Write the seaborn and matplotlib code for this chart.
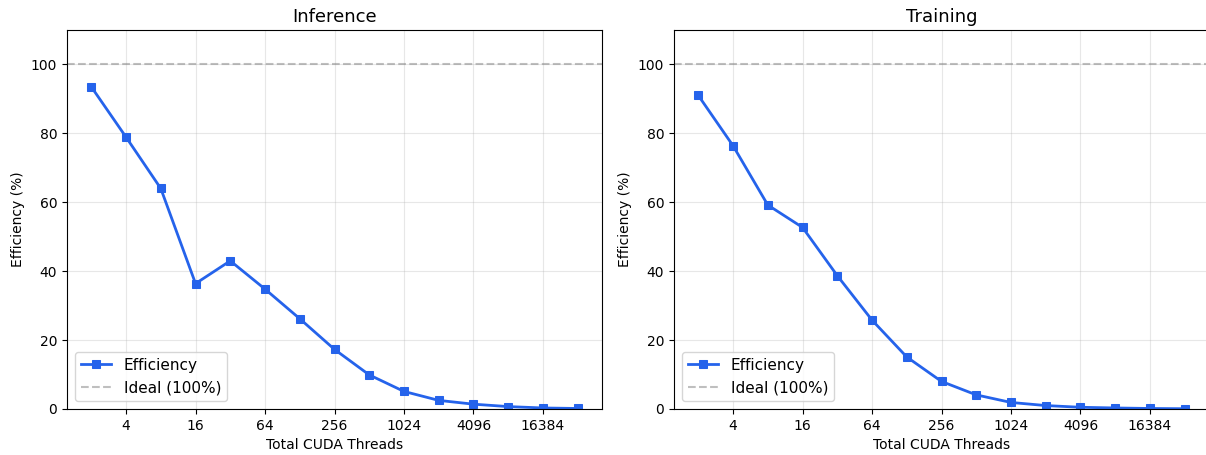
import numpy as np
import pandas as pd
import matplotlib
matplotlib.use('Agg')
import matplotlib.pyplot as plt
import seaborn as sns

threads = [2, 4, 8, 16, 32, 64, 128, 256, 512, 1024, 2048, 4096, 8192, 16384, 32768]
inference_eff = [93.5, 78.9, 64.0, 36.4, 43.0, 34.8, 26.2, 17.3, 9.9, 5.1, 2.5, 1.4, 0.7, 0.3, 0.15]
training_eff = [91.0, 76.4, 59.2, 52.7, 38.7, 25.8, 15.1, 8.0, 4.1, 1.9, 1.0, 0.5, 0.3, 0.15, 0.08]
tick_vals = [4, 16, 64, 256, 1024, 4096, 16384]
titles = ['Inference', 'Training']

plt.rcParams['font.family'] = ['DejaVu Sans']

W, H = 1206, 455
fig = plt.figure(figsize=(W / 100, H / 100), dpi=100)
# panel positions (pixels): the right panel runs slightly past the image edge
ax1 = fig.add_axes([67 / W, 1 - 409 / H, 535 / W, 379 / H])
ax2 = fig.add_axes([674 / W, 1 - 409 / H, 535 / W, 379 / H])

for ax, eff, title in zip([ax1, ax2], [inference_eff, training_eff], titles):
    df = pd.DataFrame({'threads': threads, 'eff': eff})
    sns.lineplot(data=df, x='threads', y='eff', ax=ax, color='#2563eb', marker='s',
                 markersize=6, linewidth=2, markeredgecolor='#2563eb', label='Efficiency')
    ax.axhline(100, color='gray', linestyle='--', alpha=0.5, linewidth=1.5, label='Ideal (100%)')
    ax.set_xscale('log', base=2)
    ax.set_xticks(tick_vals)
    ax.set_xticklabels([str(t) for t in tick_vals])
    ax.minorticks_off()
    ax.set_ylim(0, 110)
    ax.set_xlabel('Total CUDA Threads')
    ax.set_ylabel('Efficiency (%)')
    ax.set_title(title, fontsize=13)
    ax.grid(True, alpha=0.3)
    ax.legend(loc='lower left', fontsize=11)

fig.savefig('out.png', dpi=100)
